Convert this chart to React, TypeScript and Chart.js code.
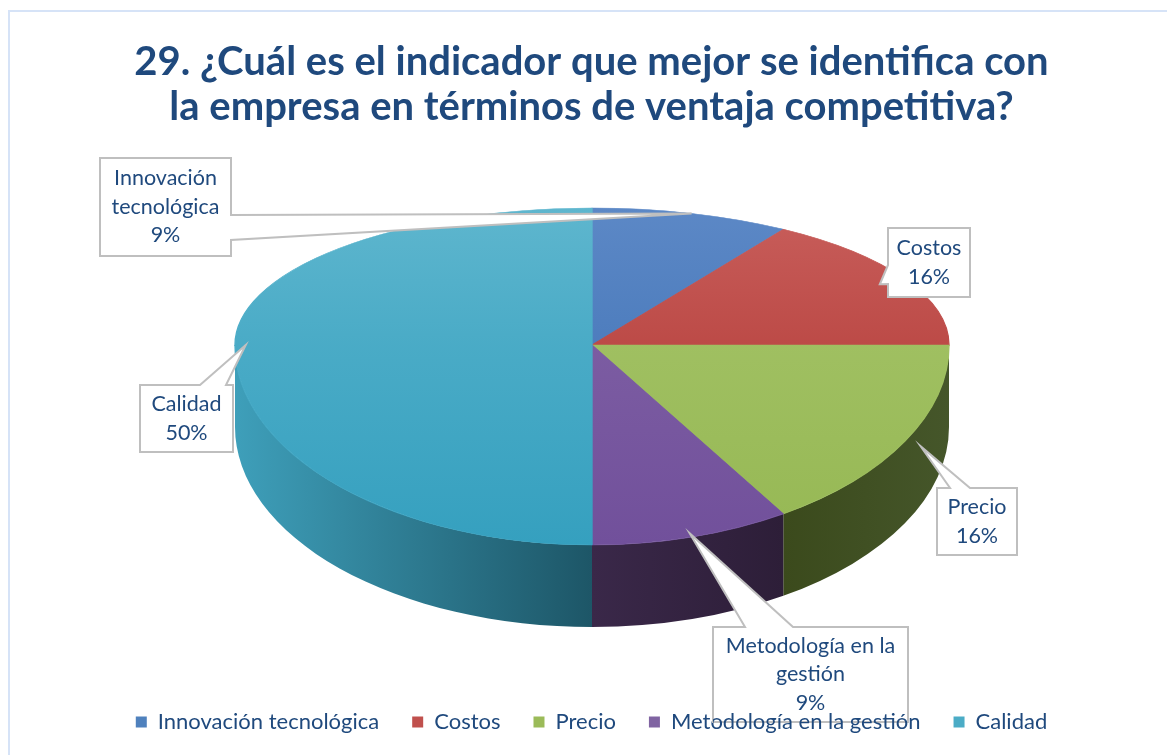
import React, { useEffect, useRef } from 'react';
import { Chart, registerables } from 'chart.js';

Chart.register(...registerables);

// ---------- data ----------
const titleLines = [
  '29. ¿Cuál es el indicador que mejor se identifica con',
  'la empresa en términos de ventaja competitiva?',
];
const categories = ['Innovación tecnológica', 'Costos', 'Precio', 'Metodología en la gestión', 'Calidad'];
const percentValues = [9, 16, 16, 9, 50];
const calloutLines = [['Innovación', 'tecnológica'], ['Costos'], ['Precio'], ['Metodología en la', 'gestión'], ['Calidad']];

// ---------- styles ----------
const legendColors = ['#4F81BD', '#C0504D', '#9BBB59', '#8064A2', '#4BACC6'];
const topColors = [
  ['#5C88C6', '#3F72B5'],
  ['#C85E5B', '#B13733'],
  ['#A9C76E', '#96B854'],
  ['#8668A9', '#71509B'],
  ['#5EB6CE', '#35A0BF'],
];
const sideColors = [
  ['#2E4A6F', '#263E5E'],
  ['#6E2422', '#5E1E1C'],
  ['#3B4A1C', '#45562A'],
  ['#3A2849', '#2D1E38'],
  ['#3E9FBA', '#1D5667'],
];
const TEXT_COLOR = '#1F497D';
const W = 1167;
const H = 755;
const GEO = { cx: 592, cy: 345, rx: 357, ryTop: 137, ryBottom: 200, depth: 82 };

// callout layout (box x, y, w, h; side of pointer; pointer base range; reach along radius)
const calloutLayout = [
  { box: [100, 158, 131, 98], side: 'right', base: [215, 240], reach: 1.0 },
  { box: [888, 228, 82, 69], side: 'left', base: [265, 284], reach: 0.92 },
  { box: [937, 488, 80, 67], side: 'top', base: [950, 970], reach: 1.05 },
  { box: [713, 627, 195, 95], side: 'top', base: [745, 793], reach: 0.98 },
  { box: [140, 385, 93, 67], side: 'top', base: [200, 226], reach: 0.97 },
];

function mapPoint(angle: number, factor: number) {
  const s = Math.sin(angle);
  const ry = s < 0 ? GEO.ryTop : GEO.ryBottom;
  return { x: GEO.cx + GEO.rx * factor * Math.cos(angle), y: GEO.cy + ry * factor * s };
}

function faceGradient(c: any) {
  const i = typeof c.dataIndex === 'number' ? c.dataIndex : 0;
  const cols = topColors[i] || topColors[0];
  const chart = c.chart;
  const area = chart.chartArea;
  if (!area) return cols[0];
  const cy = (area.top + area.bottom) / 2;
  const r = Math.min(area.right - area.left, area.bottom - area.top) / 2;
  const g = chart.ctx.createLinearGradient(0, cy - r, 0, cy + r);
  g.addColorStop(0, cols[0]);
  g.addColorStop(1, cols[1]);
  return g;
}

const pie3d = {
  id: 'pie3d',
  beforeDraw(chart: any) {
    const ctx = chart.ctx;
    ctx.save();
    ctx.fillStyle = '#ffffff';
    ctx.fillRect(0, 0, chart.width, chart.height);
    ctx.strokeStyle = '#D6E3F7';
    ctx.lineWidth = 2;
    ctx.strokeRect(9, 11, chart.width + 20, chart.height + 20);
    ctx.restore();
  },
  beforeDatasetsDraw(chart: any) {
    const ctx = chart.ctx;
    const meta = chart.getDatasetMeta(0);
    const { cx, cy, rx, ryTop, ryBottom, depth } = GEO;
    // side walls (front half only)
    meta.data.forEach((arc: any, i: number) => {
      const p = arc.getProps(['startAngle', 'endAngle'], true);
      for (let k = -1; k <= 1; k++) {
        const off = k * 2 * Math.PI;
        const a1 = Math.max(p.startAngle, off);
        const a2 = Math.min(p.endAngle, off + Math.PI);
        if (a2 <= a1) continue;
        const s = a1 - off;
        const e = a2 - off;
        const x1 = cx + rx * Math.cos(s);
        const x2 = cx + rx * Math.cos(e);
        const g = ctx.createLinearGradient(Math.min(x1, x2), 0, Math.max(x1, x2) + 0.01, 0);
        const cols = sideColors[i] || sideColors[0];
        g.addColorStop(0, cols[0]);
        g.addColorStop(1, cols[1]);
        ctx.save();
        ctx.fillStyle = g;
        ctx.beginPath();
        ctx.ellipse(cx, cy, rx, ryBottom, 0, s, e);
        ctx.ellipse(cx, cy + depth, rx, ryBottom, 0, e, s, true);
        ctx.closePath();
        ctx.fill();
        ctx.restore();
      }
    });
    // top faces: library arcs drawn under a perspective-like transform
    const first = meta.data[0];
    const { x: ax, y: ay, outerRadius: R } = first.getProps(['x', 'y', 'outerRadius'], true);
    const halves: [number, number, number][] = [
      [0, cy + 1, ryTop],
      [cy, H, ryBottom],
    ];
    halves.forEach(([y0, y1, ry]) => {
      ctx.save();
      ctx.beginPath();
      ctx.rect(0, y0, chart.width, y1 - y0);
      ctx.clip();
      ctx.translate(cx, cy);
      ctx.scale(rx / R, ry / R);
      ctx.translate(-ax, -ay);
      meta.data.forEach((a: any) => a.draw(ctx));
      ctx.restore();
    });
    return false;
  },
  afterDraw(chart: any) {
    const ctx = chart.ctx;
    const meta = chart.getDatasetMeta(0);
    const total = percentValues.reduce((a, b) => a + b, 0);
    calloutLayout.forEach((L, i) => {
      const arc = meta.data[i];
      if (!arc) return;
      const p = arc.getProps(['startAngle', 'endAngle'], true);
      const mid = (p.startAngle + p.endAngle) / 2;
      const tip = mapPoint(mid, L.reach);
      const [x, y, w, h] = L.box;
      const [b0, b1] = L.base;
      ctx.save();
      ctx.beginPath();
      if (L.side === 'right') {
        ctx.moveTo(x, y);
        ctx.lineTo(x + w, y);
        ctx.lineTo(x + w, b0);
        ctx.lineTo(tip.x, tip.y);
        ctx.lineTo(x + w, b1);
        ctx.lineTo(x + w, y + h);
        ctx.lineTo(x, y + h);
      } else if (L.side === 'left') {
        ctx.moveTo(x, y);
        ctx.lineTo(x + w, y);
        ctx.lineTo(x + w, y + h);
        ctx.lineTo(x, y + h);
        ctx.lineTo(x, b1);
        ctx.lineTo(tip.x, tip.y);
        ctx.lineTo(x, b0);
      } else {
        ctx.moveTo(x, y);
        ctx.lineTo(b0, y);
        ctx.lineTo(tip.x, tip.y);
        ctx.lineTo(b1, y);
        ctx.lineTo(x + w, y);
        ctx.lineTo(x + w, y + h);
        ctx.lineTo(x, y + h);
      }
      ctx.closePath();
      ctx.fillStyle = '#ffffff';
      ctx.fill();
      ctx.strokeStyle = '#BFBFBF';
      ctx.lineWidth = 2;
      ctx.lineJoin = 'miter';
      ctx.stroke();

      const lines = [...calloutLines[i], Math.round((percentValues[i] / total) * 100) + '%'];
      const lh = 28.5;
      ctx.fillStyle = TEXT_COLOR;
      ctx.font = '21.5px Lato';
      ctx.textAlign = 'center';
      ctx.textBaseline = 'middle';
      const startY = y + h / 2 - ((lines.length - 1) * lh) / 2;
      lines.forEach((t, j) => ctx.fillText(t, x + w / 2, startY + j * lh));
      ctx.restore();
    });
    // keep legend text above callout boxes
    if (chart.legend) {
      ctx.save();
      ctx.beginPath();
      calloutLayout.forEach((L) => ctx.rect(L.box[0], L.box[1], L.box[2] + 1, L.box[3] + 1));
      ctx.clip();
      chart.legend.draw();
      ctx.restore();
    }
  },
};

export default function App() {
  const ref = useRef<HTMLCanvasElement | null>(null);
  useEffect(() => {
    if (!ref.current) return;
    const chart = new Chart(ref.current, {
      type: 'pie',
      data: {
        labels: categories,
        datasets: [
          {
            data: percentValues,
            backgroundColor: faceGradient as any,
            borderColor: faceGradient as any,
            borderWidth: 1,
          },
        ],
      },
      options: {
        responsive: false,
        animation: false,
        events: [],
        layout: { padding: { top: 0, left: 16, right: 0, bottom: 12 } },
        plugins: {
          title: {
            display: true,
            text: titleLines,
            color: TEXT_COLOR,
            font: { family: 'Lato', size: 40, weight: 'bold', lineHeight: 45 / 40 },
            padding: { top: 40, bottom: 10 },
          },
          legend: {
            position: 'bottom',
            labels: {
              boxWidth: 11,
              boxHeight: 11,
              padding: 33,
              color: TEXT_COLOR,
              font: { family: 'Lato', size: 22 },
              generateLabels: () =>
                categories.map((t, i) => ({
                  text: t,
                  fillStyle: legendColors[i],
                  strokeStyle: legendColors[i],
                  lineWidth: 0,
                  hidden: false,
                  index: i,
                  fontColor: TEXT_COLOR,
                })),
            },
          },
          tooltip: { enabled: false },
        },
      },
      plugins: [pie3d],
    } as any);
    return () => chart.destroy();
  }, []);
  return (
    <div style={{ position: 'fixed', left: 0, top: 0, width: W, height: H, background: '#fff' }}>
      <canvas ref={ref} width={W} height={H} style={{ display: 'block', width: W, height: H }} />
    </div>
  );
}
